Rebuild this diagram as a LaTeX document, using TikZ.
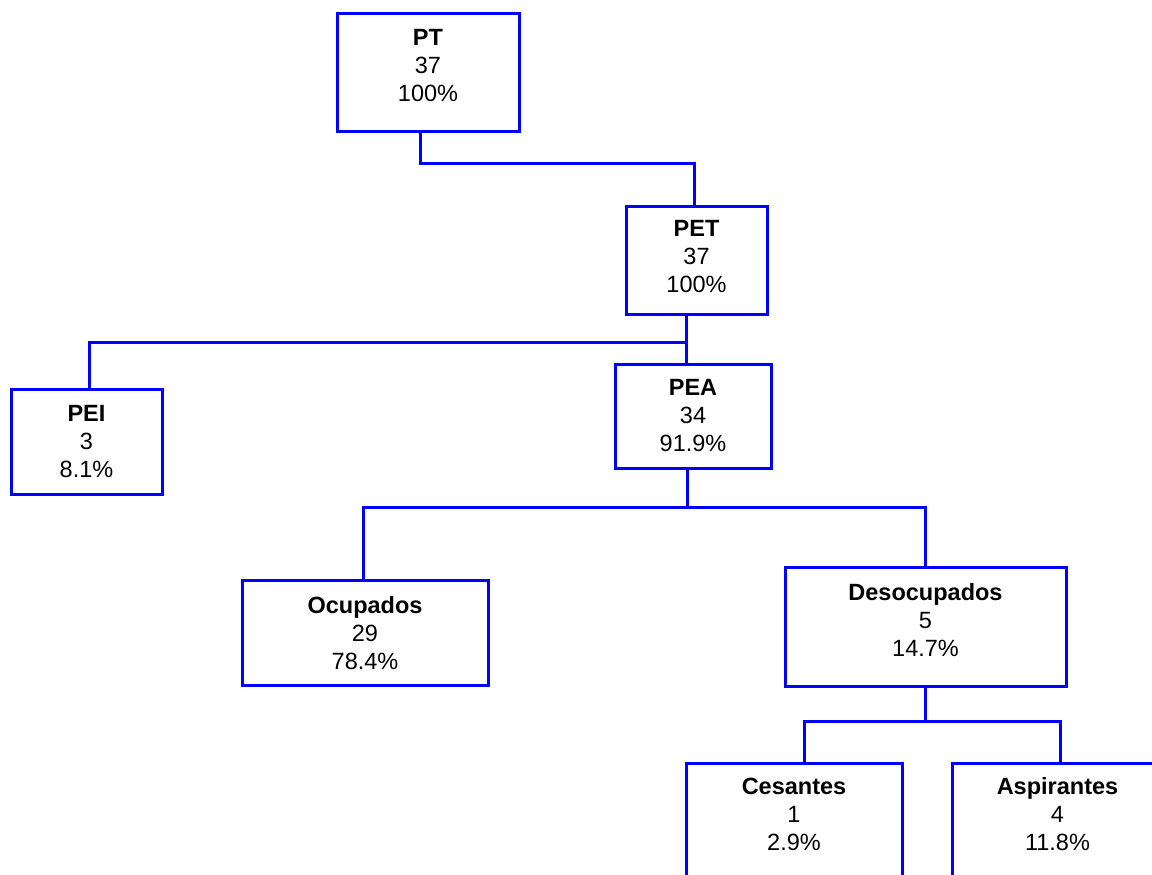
\documentclass[tikz,border=0pt]{standalone}
\usepackage{fontspec}
\setmainfont{Liberation Sans}
\usepackage{tikz}
\usetikzlibrary{positioning}

\tikzset{
  caja/.style={draw=blue,line width=3pt,rectangle,inner sep=0pt},
  txt/.style={inner sep=0pt,align=center,font=\fontsize{23.5}{28}\selectfont},
  link/.style={blue,line width=3pt}
}

\begin{document}
\begin{tikzpicture}[x=1pt,y=-1pt]
  \useasboundingbox (0,0) rectangle (1152,875);
  \clip (0,0) rectangle (1152,875);
  %\draw[very thin,lightgray] (0,0) grid[step=50] (1152,875);
  \node[caja,minimum width=182,minimum height=117] (pt) at (428,72.5) {};
  \node[caja,minimum width=141,minimum height=108] (pet) at (696.5,260) {};
  \node[caja,minimum width=151,minimum height=105] (pei) at (86.5,441.5) {};
  \node[caja,minimum width=156,minimum height=104] (pea) at (693,416) {};
  \node[caja,minimum width=246,minimum height=105] (ocu) at (365,632.5) {};
  \node[caja,minimum width=281,minimum height=119] (deso) at (925.5,626.5) {};
  \node[caja,minimum width=216,minimum height=127] (ces) at (794,826.5) {};
  \node[caja,minimum width=211,minimum height=127] (asp) at (1057.5,826.5) {};
  % textos
  \node[txt,below=17pt of pt.north] (pt-t) {\textbf{PT}\\37\\100\%};
  \node[txt,below=16pt of pet.north] (pet-t) {\textbf{PET}\\37\\100\%};
  \node[txt,below=18pt of pei.north] (pei-t) {\textbf{PEI}\\3\\8.1\%};
  \node[txt,below=17pt of pea.north] (pea-t) {\textbf{PEA}\\34\\91.9\%};
  \node[txt,below=18pt of ocu.north] (ocu-t) {\textbf{Ocupados}\\29\\78.4\%};
  \node[txt,below=18pt of deso.north] (deso-t) {\textbf{Desocupados}\\5\\14.7\%};
  \node[txt,below=16pt of ces.north] (ces-t) {\textbf{Cesantes}\\1\\2.9\%};
  \node[txt,below=16pt of asp.north] (asp-t) {\textbf{Aspirantes}\\4\\11.8\%};
  % conectores
  \coordinate (j1) at (686,342);
  \coordinate (j2) at (687,507);
  \coordinate (j3) at (925.5,721);
  \draw[link] ([xshift=-8]pt.south) -- ++(0,31) -| ([xshift=-2.5]pet.north);
  \draw[link] ([xshift=-10.5]pet.south) -- ([xshift=-7]pea.north);
  \draw[link] (j1) -| ([xshift=2.5]pei.north);
  \draw[link] ([xshift=-6]pea.south) -- (j2);
  \draw[link] ([xshift=-2]ocu.north) |- (j2) -| (deso.north);
  \draw[link] (deso.south) -- (j3);
  \draw[link] ([xshift=10]ces.north) |- (j3) -| ([xshift=2.5]asp.north);
\end{tikzpicture}
\end{document}
